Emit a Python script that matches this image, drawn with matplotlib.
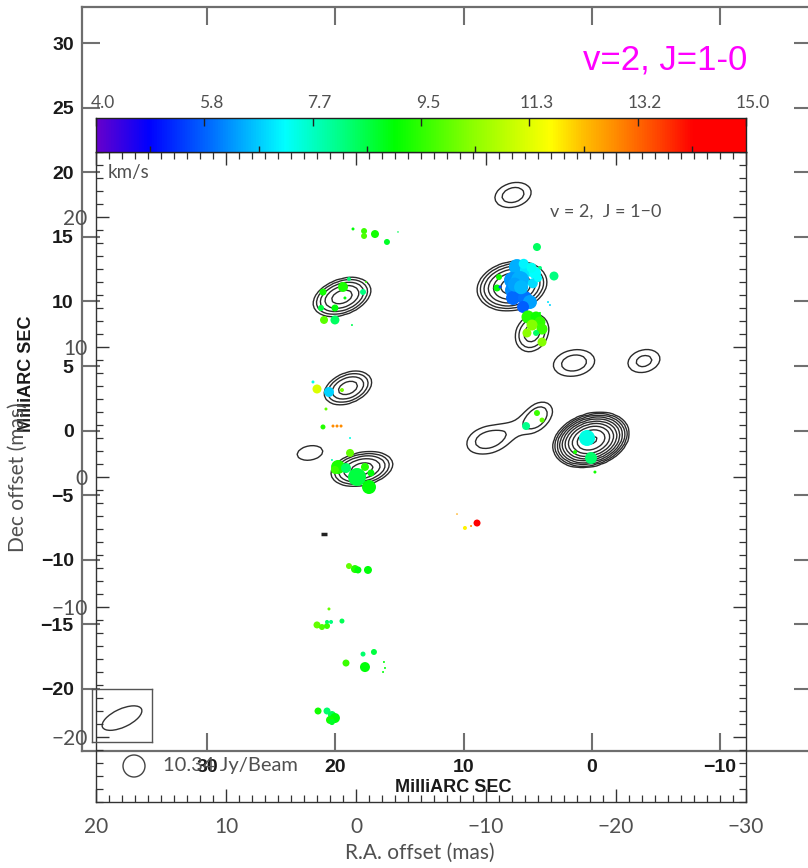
import numpy as np
import matplotlib
matplotlib.use('Agg')
import matplotlib.pyplot as plt
from matplotlib.colors import LinearSegmentedColormap
from matplotlib.patches import Ellipse, Circle
from matplotlib.transforms import ScaledTranslation

# ---------------- data ----------------
# velocity colour scale (km/s)
vel_min, vel_max = 4.0, 15.0
n_vel_ticks = 7

# maser spots: R.A. offset (mas), Dec offset (mas), LSR velocity (km/s), peak flux (arb.)
spot_ra = [0.23, -0.62, -0.62, -1.46, -2.38, -3.23,
           0.54, 1.00, 2.54, -0.54, 0.85, 2.69, 1.62, 2.46, 1.62, -0.77, 0.31,
           3.31, 3.00, 2.08, 1.08, 2.31, 2.54, 1.77, 1.46, 1.15, 0.46,
           0.46, 1.85, 1.38, 0.77, 1.62, -0.08, -0.69, -1.15, -1.00,
           -13.92, -15.23, -14.15,
           -12.38, -13.15, -13.77, -12.00, -12.62, -12.08, -12.46, -12.08, -13.00, -13.38, -12.85,
           -12.9, -13.5, -12.2, -12.7, -13.6, -14.0,
           -11.00, -10.85, -11.08, -14.77, -14.92,
           -13.23, -13.85, -14.15, -13.54, -14.31, -13.15, -13.85, -14.31, -14.15,
           -13.92, -14.31, -13.08,
           -17.77, -18.08, -16.85, -18.38,
           -9.31, -8.38, -8.85, -7.77,
           0.54, 0.08, -0.15, -0.92,
           2.08, 3.00, 2.62, 2.23, 1.92, 2.23, 1.08,
           0.77, -0.69, -0.54, -1.38, -2.15, -2.23, -2.08,
           2.92, 2.23, 1.85, 1.62, 2.00, 1.85]
spot_dec = [19.08, 18.92, 18.54, 18.69, 18.08, 18.85,
            15.23, 14.62, 14.23, 14.23, 13.77, 13.00, 13.00, 12.08, 12.08, 15.00, 11.69,
            7.31, 6.77, 6.54, 6.69, 5.23, 3.85, 3.92, 3.92, 3.92, 3.00,
            1.85, 1.31, 0.77, 0.69, 0.54, 0.00, 0.77, 0.31, -0.77,
            17.69, 15.46, 16.08,
            16.15, 15.92, 15.69, 15.15, 15.15, 14.38, 14.00, 13.77, 13.77, 13.46, 13.08,
            16.4, 16.1, 14.8, 14.6, 14.9, 15.3,
            15.38, 14.54, 14.62, 13.46, 13.23,
            12.31, 12.31, 11.92, 11.69, 11.38, 11.08, 11.08, 10.38, 12.62,
            4.92, 4.38, 3.92,
            3.00, 1.46, 1.92, 0.38,
            -3.54, -3.92, -3.77, -2.85,
            -6.85, -7.08, -7.15, -7.15,
            -10.15, -11.38, -11.54, -11.46, -11.15, -11.15, -11.08,
            -14.31, -14.62, -13.62, -13.46, -14.23, -14.69, -15.00,
            -18.00, -18.00, -18.31, -18.54, -18.69, -18.85]
spot_vel = [9.0, 9.6, 9.8, 9.2, 8.8, 8.5,
            8.3, 9.3, 9.2, 8.2, 9.0, 8.6, 9.0, 9.9, 8.4, 9.5, 8.5,
            7.4, 11.3, 6.8, 10.2, 10.0, 9.4, 12.8, 12.8, 12.8, 7.4,
            10.0, 7.8, 9.3, 8.4, 9.6, 8.6, 9.4, 9.0, 9.0,
            8.4, 8.2, 8.2,
            6.5, 7.0, 7.2, 6.3, 6.5, 6.2, 6.4, 5.9, 6.0, 6.4, 5.8,
            7.1, 7.3, 6.4, 6.6, 6.9, 7.2,
            9.2, 9.0, 5.6, 7.0, 6.8,
            9.4, 9.2, 9.5, 10.3, 9.6, 10.4, 8.4, 10.3, 9.0,
            9.6, 10.0, 8.1,
            7.4, 8.3, 9.3, 9.2,
            14.1, 11.8, 12.8, 12.5,
            10.0, 9.4, 9.0, 9.0,
            10.0, 10.0, 9.8, 9.6, 8.2, 8.4, 8.5,
            9.6, 9.0, 8.3, 8.6, 9.0, 9.0, 9.0,
            9.2, 8.3, 8.5, 9.0, 9.2, 8.8]
spot_flux = [1.5, 3, 3, 4, 3, 0.8,
             2, 5, 3.5, 3, 1.5, 3, 3.5, 4, 4.5, 1, 1,
             1.5, 4.5, 5, 2, 1.5, 2.5, 1.5, 1.5, 1.5, 1,
             4, 1, 7, 5, 4, 9, 4, 3.5, 7,
             4, 4.5, 2,
             8, 7, 6, 8, 9, 8, 7, 7, 7, 7, 6,
             5, 5, 7, 7, 5, 4,
             3, 3.5, 1.5, 1, 1,
             6.5, 5.5, 5.5, 5.5, 5.5, 4.5, 3, 4.5, 1,
             3, 2.5, 4,
             8, 6, 2, 1.5,
             3.5, 2, 1, 0.8,
             3, 4, 3.5, 4,
             1.5, 3.5, 3, 3, 2, 2, 2.5,
             3.5, 5, 2.5, 3, 1, 1, 1,
             3.5, 3.5, 4, 5, 4, 3]

# continuum-like contour image: Gaussian components
comp_ra    = [-12.08, 1.08, 0.62, 3.54, -0.46, -12.0, -13.54, -16.77, -22.15, -10.08, -13.92, -12.0, -18.08]
comp_dec   = [21.69, 13.85, 6.85, 1.85, 0.62, 14.69, 11.08, 8.77, 8.92, 2.85, 4.62, 3.65, 2.85]
comp_peak  = [3.0, 24.0, 12.0, 1.5, 24.0, 48.0, 6.0, 3.0, 2.5, 2.2, 3.0, 1.3, 600.0]
comp_major = [1.42, 2.3, 1.9, 1.0, 2.4, 2.7, 1.5, 1.6, 1.25, 1.35, 1.2, 1.6, 3.0]   # outer-contour semi-axis (mas)
comp_minor = [0.92, 1.35, 1.15, 0.55, 1.25, 1.85, 1.2, 1.0, 0.85, 0.9, 0.8, 0.45, 2.0]
comp_tilt  = [15, 20, 22, 10, 12, 12, 60, 10, 15, 10, 50, 25, 18]                     # deg above horizontal
contour_levels = [1, 2, 4, 8, 16, 32, 64, 128, 256, 512]

# single weak feature
dot_ra, dot_dec = [2.46], [-4.38]

# restoring beam
beam_major, beam_minor, beam_pa = 3.3, 1.4, -65.0
beam_peak_label = '10.34 Jy/Beam'

# ---------------- figure ----------------
W, H = 808, 868
fig = plt.figure(figsize=(W / 100, H / 100), dpi=100)


def rect(x0, y0, x1, y1):
    return [x0 / W, 1 - y1 / H, (x1 - x0) / W, (y1 - y0) / H]


THIN = ['Lato', 'DejaVu Sans']
BOLD = ['Liberation Sans', 'DejaVu Sans']
thin_col = '#505050'
thin_w = 'normal'

cmap = LinearSegmentedColormap.from_list('vel', [
    (0.00, (0.40, 0.00, 0.80)),
    (0.08, (0.00, 0.00, 1.00)),
    (0.18, (0.00, 0.45, 1.00)),
    (0.29, (0.00, 1.00, 1.00)),
    (0.38, (0.00, 1.00, 0.50)),
    (0.46, (0.00, 1.00, 0.00)),
    (0.58, (0.55, 1.00, 0.00)),
    (0.70, (1.00, 1.00, 0.00)),
    (0.75, (1.00, 0.75, 0.00)),
    (0.80, (1.00, 0.55, 0.00)),
    (0.87, (1.00, 0.25, 0.00)),
    (0.92, (1.00, 0.00, 0.00)),
    (1.00, (1.00, 0.00, 0.00))])

# ---- background frame (contour map axes) ----
axA = fig.add_axes(rect(82, 7, 812, 751))
axA.set_xlim(39.75, -17.17)
axA.set_ylim(-24.8, 32.79)
axA.patch.set_alpha(0)
axA.set_xticks([30, 20, 10, 0, -10])
axA.set_yticks(np.arange(-20, 31, 5))
axA.tick_params(direction='in', length=13, width=1.5, color='#707070',
                top=True, right=True, labelsize=14, pad=6)
for lab in axA.get_xticklabels() + axA.get_yticklabels():
    lab.set_family(BOLD)
    lab.set_fontweight('bold')
    lab.set_color('#1a1a1a')
for sp in axA.spines.values():
    sp.set_color('#6e6e6e')
    sp.set_linewidth(1.6)
fig.text(453 / W, 1 - 788 / H, 'MilliARC SEC', family=BOLD, fontweight='bold',
         fontsize=13, color='#1a1a1a', ha='center', va='center')
fig.text(27 / W, 1 - 374 / H, 'MilliARC SEC', family=BOLD, fontweight='bold',
         fontsize=13, color='#1a1a1a', ha='center', va='center', rotation=90)

# ---- main data axes ----
axB = fig.add_axes(rect(96, 152, 746, 802))
axB.set_xlim(20, -30)
axB.set_ylim(-25, 25)
axB.patch.set_alpha(0)
axB.set_xticks([20, 10, 0, -10, -20, -30])
axB.set_yticks([20, 10, 0, -10, -20])
axB.set_xticks(np.arange(-30, 21, 1), minor=True)
axB.set_yticks(np.arange(-25, 26, 1), minor=True)
axB.tick_params(which='both', direction='in', top=True, right=True, color='#333333')
axB.tick_params(which='major', length=9.5, width=1.0, labelsize=15, labelcolor=thin_col)
axB.tick_params(which='minor', length=5, width=0.9)
axB.tick_params(axis='x', which='major', pad=11)
axB.tick_params(axis='y', which='major', pad=6)
for lab in axB.get_xticklabels() + axB.get_yticklabels():
    lab.set_family(THIN)
    lab.set_fontweight(thin_w)
for sp in axB.spines.values():
    sp.set_color('#333333')
    sp.set_linewidth(1.0)

# contour image
gx = np.arange(-30, 20.001, 0.25)
gy = np.arange(-25, 25.001, 0.25)
GX, GY = np.meshgrid(gx, gy)
field = np.zeros_like(GX)
for x0, y0, pk, a0, b0, t in zip(comp_ra, comp_dec, comp_peak, comp_major, comp_minor, comp_tilt):
    pa = np.deg2rad(t - 90.0)
    k = np.sqrt(2 * np.log(pk / 0.999))
    sa, sb = a0 / k, b0 / k
    dx, dy = GX - x0, GY - y0
    u = dx * np.sin(pa) + dy * np.cos(pa)
    v = dx * np.cos(pa) - dy * np.sin(pa)
    field += pk * np.exp(-0.5 * (u ** 2 / sa ** 2 + v ** 2 / sb ** 2))
axB.contour(GX, GY, field, levels=contour_levels, colors='#2b2b2b', linewidths=1.0)
axB.plot(dot_ra, dot_dec, marker='_', color='#222222', markersize=5, mew=2.5, ls='none')

# maser spots
sizes = (1.44 * np.asarray(spot_flux)) ** 2
axB.scatter(spot_ra, spot_dec, s=sizes, c=spot_vel, cmap=cmap, vmin=vel_min, vmax=vel_max,
            edgecolors='none', zorder=3)

axB.text(0.698, 0.909, 'v = 2,  J = 1\u22120', family=THIN, fontweight=thin_w, fontsize=13,
         color=thin_col, ha='left', va='center', transform=axB.transAxes)
axB.text(0.018, 0.969, 'km/s', family=THIN, fontweight=thin_w, fontsize=13.5,
         color=thin_col, ha='left', va='center', transform=axB.transAxes)

fig.text(420 / W, 1 - 853 / H, 'R.A. offset (mas)', family=THIN, fontweight=thin_w,
         fontsize=15, color=thin_col, ha='center', va='center')
fig.text(18 / W, 1 - 477 / H, 'Dec offset (mas)', family=THIN, fontweight=thin_w,
         fontsize=15, color=thin_col, ha='center', va='center', rotation=90)

# colour bar
axC = fig.add_axes(rect(96, 118, 746, 152))
grad = np.linspace(vel_min, vel_max, 512)[None, :]
axC.imshow(grad, cmap=cmap, aspect='auto', extent=[vel_min, vel_max, 0, 1],
           vmin=vel_min, vmax=vel_max)
ticks = np.linspace(vel_min, vel_max, n_vel_ticks)
axC.set_xticks(ticks)
axC.set_xticklabels(['%.1f' % t for t in ticks])
axC.set_xticks(np.linspace(vel_min, vel_max, 2 * n_vel_ticks - 1), minor=True)
axC.set_yticks([])
axC.xaxis.set_ticks_position('both')
axC.tick_params(which='major', direction='in', top=True, bottom=False, labeltop=True,
                labelbottom=False, length=6, width=1.0, color='#222222',
                labelsize=12.5, labelcolor=thin_col, pad=5)
axC.tick_params(which='minor', direction='in', top=False, bottom=True, length=4.5,
                width=1.0, color='#222222')
off = ScaledTranslation(0.07, 0, fig.dpi_scale_trans)
for lab in axC.get_xticklabels():
    lab.set_family(THIN)
    lab.set_fontweight(thin_w)
    lab.set_transform(lab.get_transform() + off)
for sp in axC.spines.values():
    sp.set_color('#222222')
    sp.set_linewidth(1.0)

# beam box
axBeam = fig.add_axes(rect(92, 689, 152, 742))
axBeam.patch.set_alpha(0)
axBeam.set_xlim(2.3, -2.3)
axBeam.set_ylim(-2.04, 2.04)
axBeam.set_xticks([])
axBeam.set_yticks([])
for sp in axBeam.spines.values():
    sp.set_color('#555555')
    sp.set_linewidth(1.0)
axBeam.add_patch(Ellipse((0.0, -0.2), beam_major, beam_minor, angle=90 - beam_pa,
                         fill=False, ec='#333333', lw=1.0))

# peak label
fig.add_artist(Circle((1.34, (H - 766) / 100), 0.11, transform=fig.dpi_scale_trans,
                      fill=False, ec='#444444', lw=1.0))
fig.text(163 / W, 1 - 766 / H, beam_peak_label, family=THIN, fontweight=thin_w,
         fontsize=14.5, color=thin_col, ha='left', va='center')

# title
fig.text(665 / W, 1 - 60 / H, 'v=2, J=1-0', family=['Liberation Sans', 'DejaVu Sans'],
         fontsize=25, color='#ff00ff', ha='center', va='center')

fig.savefig('out.png', dpi=100)
